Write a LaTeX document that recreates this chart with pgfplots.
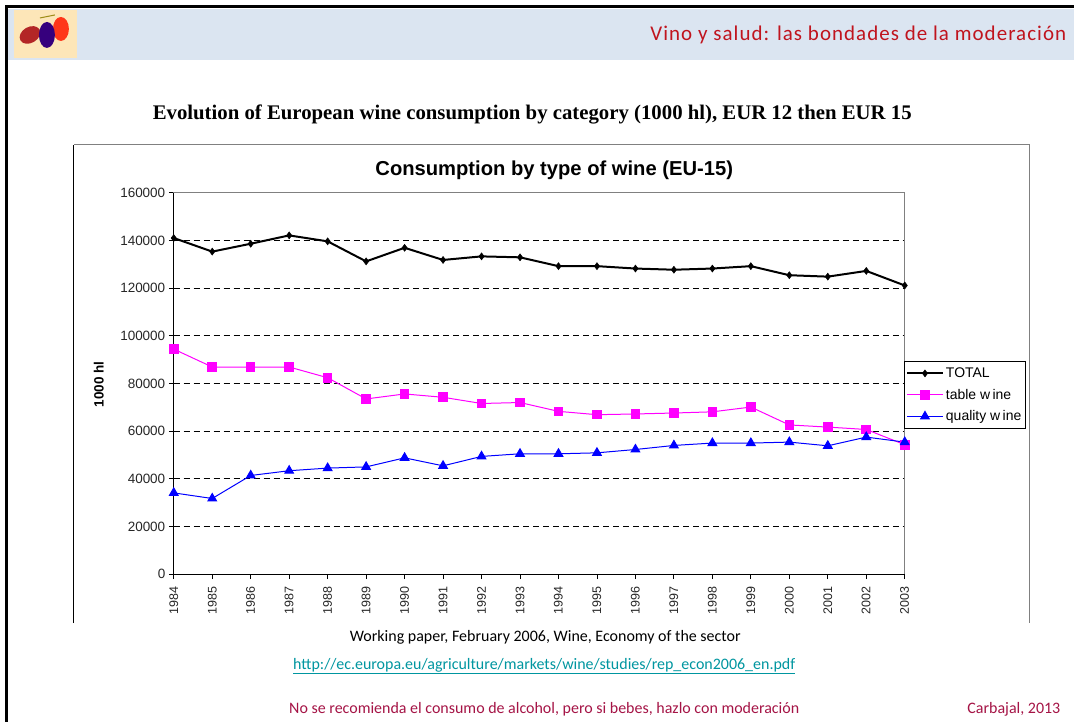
\documentclass[border=0pt]{standalone}
\usepackage{pgfplots}
\pgfplotsset{compat=1.18}
\usepackage{pgfplotstable}
\usepackage{fontspec}
\setmainfont{Liberation Sans}
\newfontfamily\calibri{Carlito}
\newfontfamily\serifrm{Liberation Serif}

\definecolor{bandblue}{RGB}{219,229,241}
\definecolor{headred}{RGB}{192,20,30}
\definecolor{footred}{RGB}{165,20,70}
\definecolor{urlteal}{RGB}{0,150,160}
\definecolor{framegray}{RGB}{128,128,128}
\definecolor{xlmagenta}{RGB}{255,0,255}
\definecolor{xlblue}{RGB}{0,0,255}

% EU-15 consumption, 1000 hl
\pgfplotstableread{
year total table quality
1984 141000 94400 34100
1985 135300 86900 31750
1986 138600 86900 41400
1987 142100 86900 43400
1988 139600 82400 44500
1989 131200 73500 45000
1990 136900 75600 48800
1991 131800 74200 45450
1992 133300 71600 49400
1993 132900 72000 50500
1994 129200 68300 50500
1995 129200 66900 50900
1996 128200 67200 52300
1997 127700 67600 54000
1998 128200 68100 55000
1999 129200 70100 55000
2000 125400 62600 55400
2001 124800 61700 53850
2002 127200 60700 57500
2003 121100 54300 55400
}\wine

\begin{document}
\begin{tikzpicture}
\begin{scope}[x=1pt,y=1pt]
% slide
\fill[white] (0,0) rectangle (1075,723);
\fill[bandblue] (8,663) rectangle (1075,714);
\draw[black, line width=3pt] (6.5,0) -- (6.5,716) -- (1075,716);
% logo stand-in
\fill[yellow!30!orange!25] (14,665) rectangle (77,713);
\fill[red!65!black!85, rotate around={30:(30,688)}] (30,688) ellipse (11pt and 8pt);
\fill[red!75!orange!90] (61,694) ellipse (8pt and 12pt);
\fill[violet!60!blue!70!black] (47,688) ellipse (8pt and 13pt);
\draw[olive!70!brown, line width=1pt] (40,705) -- (55,708);
\node[anchor=east, text=headred, font=\calibri\fontsize{21}{24}\selectfont\addfontfeature{LetterSpace=5}, inner sep=0pt]
  at (1068,688) {Vino y salud: las bondades de la moderación};

\node[font=\serifrm\bfseries\fontsize{20.8}{24}\selectfont, inner sep=0pt] at (533,608)
  {Evolution of European wine consumption by category (1000 hl), EUR 12 then EUR 15};

% chart frame (cut at the bottom)
\draw[black, line width=1pt] (74,99) -- (74,578);
\draw[framegray, line width=1pt] (74,578) -- (1031,578) -- (1031,99);
\node[font=\bfseries\fontsize{20.2}{24}\selectfont, inner sep=0pt] at (555,552)
  {Consumption by type of wine (EU-15)};

% footer
\node[font=\calibri\fontsize{16}{19}\selectfont, inner sep=0pt] at (546,85)
  {Working paper, February 2006, Wine, Economy of the sector};
\node[font=\calibri\fontsize{16}{19}\selectfont, text=urlteal, inner sep=0pt] at (545,56)
  {\underline{http://ec.europa.eu/agriculture/markets/wine/studies/rep\_econ2006\_en.pdf}};
\node[font=\calibri\fontsize{16}{19}\selectfont, text=footred, inner sep=0pt] at (545,13)
  {No se recomienda el consumo de alcohol, pero si bebes, hazlo con moderación};
\node[anchor=east, font=\calibri\fontsize{16}{19}\selectfont, text=footred, inner sep=0pt] at (1062,13)
  {Carbajal, 2013};
\end{scope}

\begin{axis}[
  at={(174pt,148pt)}, anchor=south west,
  scale only axis, width=732pt, height=382pt,
  xmin=1984, xmax=2003, ymin=0, ymax=160000,
  xtick={1984,...,2003},
  ytick={0,20000,...,160000},
  scaled y ticks=false,
  /pgf/number format/fixed,
  /pgf/number format/precision=0,
  /pgf/number format/1000 sep={},
  /pgf/number format/assume math mode=true,
  tick align=outside, xtick pos=bottom, ytick pos=left,
  major tick length=5pt,
  tick style={black, line width=0.8pt},
  xticklabel shift=4pt,
  x tick label style={rotate=90, anchor=east, font=\fontsize{12.5}{14}\selectfont, text=black!85},
  y tick label style={font=\fontsize{13.5}{16}\selectfont, text=black!85},
  ymajorgrids,
  grid style={black, dash pattern=on 6pt off 4pt, line width=0.7pt},
  axis line style={framegray, line width=1pt},
  ylabel={1000 hl},
  ylabel style={at={(axis description cs:-0.1025,0.497)}, anchor=center, font=\bfseries\fontsize{13.5}{16}\selectfont},
  legend style={at={(0.9986,0.5576)}, anchor=north west, draw=black, line width=0.6pt, fill=white,
    font=\fontsize{14}{16}\selectfont, row sep=6pt, inner xsep=2pt, inner ysep=4pt},
  legend cell align=left,
  legend image code/.code={\draw[mark repeat=2, mark phase=2] plot coordinates {(0pt,0pt) (18pt,0pt) (36pt,0pt)};},
  clip=false,
]
\addplot[black, line width=2pt, mark=diamond*, mark size=3.5pt, mark options={line width=0.5pt}]
  table[x=year, y=total] {\wine};
\addlegendentry{TOTAL}
\addplot[xlmagenta, line width=1pt, mark=square*, mark size=4.3pt]
  table[x=year, y=table] {\wine};
\addlegendentry{table w\,ine}
\addplot[xlblue, line width=1pt, mark=triangle*, mark size=5pt]
  table[x=year, y=quality] {\wine};
\addlegendentry{quality w\,ine}
\draw[black, line width=1.2pt] (rel axis cs:0,1) -- (rel axis cs:0,0) -- (rel axis cs:1,0);
\end{axis}
\end{tikzpicture}
\end{document}
